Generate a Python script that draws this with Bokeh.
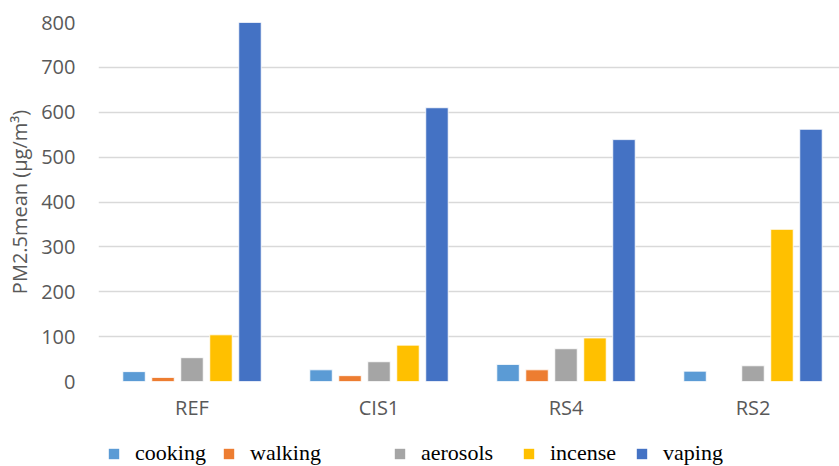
import numpy as np
from bokeh.plotting import figure
from bokeh.layouts import column
from bokeh.models import (ColumnDataSource, Range1d, FixedTicker, Legend, LegendItem)
from bokeh.transform import dodge
from bokeh.embed import file_html
from bokeh.resources import INLINE

categories = ["REF", "CIS1", "RS4", "RS2"]
cooking = [22, 26, 38, 23]
walking = [9, 13, 26, 0]
aerosols = [53, 44, 73, 35]
incense = [104, 81, 97, 339]
vaping = [800, 610, 539, 562]

series = ["cooking", "walking", "aerosols", "incense", "vaping"]
values = [cooking, walking, aerosols, incense, vaping]
colors = ["#5B9BD5", "#ED7D31", "#A5A5A5", "#FFC000", "#4472C4"]

centers = [i + 0.5 for i in range(len(categories))]
src = ColumnDataSource(dict(x=centers, **{s: v for s, v in zip(series, values)}))

FRAME_LEFT = 98
p = figure(width=839, height=436, output_backend="svg", toolbar_location=None,
           x_range=Range1d(0, 741 / 187), y_range=Range1d(0, 800),
           min_border_left=FRAME_LEFT, min_border_right=0,
           min_border_top=22, min_border_bottom=55)
p.outline_line_color = None
p.background_fill_color = "white"
p.border_fill_color = "white"

step = 0.155
bw = 0.12
for j, (s, c) in enumerate(zip(series, colors)):
    p.vbar(x=dodge("x", (j - 2) * step, range=p.x_range), top=s, width=bw,
           source=src, fill_color=c, line_color="white", line_width=0.8)

# axes
p.xaxis.ticker = FixedTicker(ticks=centers)
p.xaxis.major_label_overrides = {c: lab for c, lab in zip(centers, categories)}
p.yaxis.ticker = FixedTicker(ticks=list(range(0, 801, 100)))
for ax in (p.xaxis[0], p.yaxis[0]):
    ax.axis_line_color = None
    ax.major_tick_line_color = None
    ax.minor_tick_line_color = None
    ax.major_tick_out = 0
    ax.major_tick_in = 0
    ax.minor_tick_out = 0
    ax.major_label_text_font = "Open Sans"
    ax.major_label_text_font_size = "20px"
    ax.major_label_text_color = "#595959"
p.xaxis.major_label_standoff = 12
p.yaxis.major_label_standoff = 23
p.yaxis.axis_label = "PM2.5mean (μg/m³)"
p.yaxis.axis_label_text_font = "Open Sans"
p.yaxis.axis_label_text_font_size = "20px"
p.yaxis.axis_label_text_font_style = "normal"
p.yaxis.axis_label_text_color = "#595959"
p.yaxis.axis_label_standoff = 5

p.xgrid.grid_line_color = None
p.ygrid.grid_line_color = "#D9D9D9"
p.ygrid.grid_line_width = 1.5

# legend row: a strip below the chart, items placed like the original
lf = figure(width=839, height=30, output_backend="svg", toolbar_location=None,
            x_range=Range1d(0, 1), y_range=Range1d(0, 1),
            min_border=0, min_border_left=0, min_border_right=0,
            min_border_top=0, min_border_bottom=0)
lf.axis.visible = False
lf.grid.visible = False
lf.outline_line_color = None
lf.border_fill_color = "white"

leg_x = [107, 222, 393, 522, 635]
for s, c, lx in zip(series, colors, leg_x):
    # stand-in glyph lying outside the strip's range, only used for the legend swatch
    r = lf.vbar(x=[0.5], top=[-5], bottom=[-6], width=0.01, fill_color=c, line_color=None)
    lg = Legend(items=[LegendItem(label=s, renderers=[r])],
                location=(lx - FRAME_LEFT, 0), orientation="horizontal",
                background_fill_alpha=0, border_line_color=None,
                glyph_width=13, glyph_height=13, label_standoff=15,
                padding=0, margin=0, spacing=0,
                label_text_font="Liberation Serif", label_text_font_size="22px",
                label_text_color="black")
    lf.add_layout(lg, "center")

layout = column(p, lf, spacing=0)
open("out.html", "w").write(file_html(layout, INLINE))
